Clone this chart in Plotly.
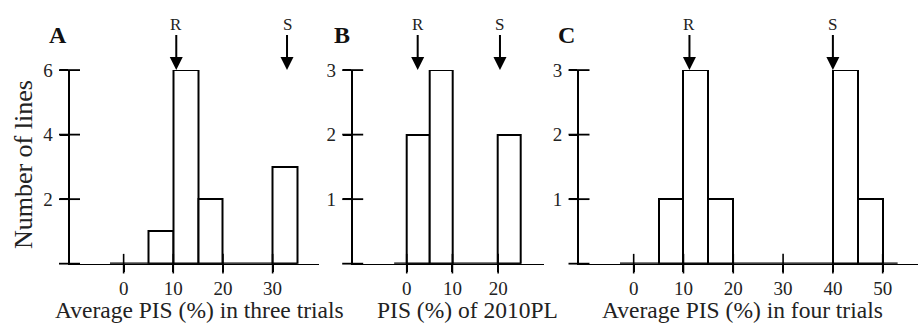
import plotly.graph_objects as go

W, H = 919, 326

# ---- data ----
bin_width = 5
A_bin_starts = [0, 5, 10, 15, 20, 25, 30]
A_counts = [0, 1, 6, 2, 0, 0, 3]
B_bin_starts = [0, 5, 10, 15, 20]
B_counts = [2, 3, 0, 0, 2]
C_bin_starts = [0, 5, 10, 15, 20, 25, 30, 35, 40, 45]
C_counts = [0, 1, 3, 1, 0, 0, 0, 0, 3, 1]

A_xticks = [0, 10, 20, 30]
B_xticks = [0, 10, 20]
C_xticks = [0, 10, 20, 30, 40, 50]
A_yticks = [2, 4, 6]
B_yticks = [1, 2, 3]
C_yticks = [1, 2, 3]

A_arrows = {"R": 10.6, "S": 32.9}
B_arrows = {"R": 2.4, "S": 20.4}
C_arrows = {"R": 11.2, "S": 40.0}

A_hist_span = [-2.75, 35]
B_hist_span = [-2.75, 25]
C_hist_span = [-2.75, 53]

A_title = "Average PIS (%) in three trials"
B_title = "PIS (%) of 2010PL"
C_title = "Average PIS (%) in four trials"
y_title = "Number of lines"

FONT = "Liberation Serif, Times New Roman, serif"


def px(x):
    return x / W


def py(y):
    return (H - y) / H


panels = [
    dict(letter="A", starts=A_bin_starts, counts=A_counts, xt=A_xticks, yt=A_yticks,
         arrows=A_arrows, span=A_hist_span, title=A_title,
         dom=[69.5, 319.3], rng=[-10.9, 39.4], ymax=6, letter_x=58, title_x=199),
    dict(letter="B", starts=B_bin_starts, counts=B_counts, xt=B_xticks, yt=B_yticks,
         arrows=B_arrows, span=B_hist_span, title=B_title,
         dom=[352.7, 544.3], rng=[-11.82, 30.1], ymax=3, letter_x=342, title_x=467),
    dict(letter="C", starts=C_bin_starts, counts=C_counts, xt=C_xticks, yt=C_yticks,
         arrows=C_arrows, span=C_hist_span, title=C_title,
         dom=[579, 918.3], rng=[-10.98, 57.15], ymax=3, letter_x=566, title_x=742),
]

fig = go.Figure()
ydom = [py(261.7), py(62)]
annotations = []
layout = {}

for i, p in enumerate(panels):
    sfx = "" if i == 0 else str(i + 1)
    xa, ya = "x" + sfx, "y" + sfx
    # thick histogram baseline
    fig.add_trace(go.Scatter(x=p["span"], y=[0, 0], xaxis=xa, yaxis=ya, mode="lines",
                             line=dict(color="black", width=2.5), cliponaxis=False,
                             hoverinfo="skip", showlegend=False))
    # bars (non-zero bins)
    bx = [s + bin_width / 2 for s, c in zip(p["starts"], p["counts"]) if c > 0]
    by = [c for c in p["counts"] if c > 0]
    fig.add_trace(go.Bar(x=bx, y=by, width=bin_width, xaxis=xa, yaxis=ya,
                         marker=dict(color="white", line=dict(color="black", width=2)),
                         cliponaxis=False, showlegend=False))
    # crossing x ticks
    fig.add_trace(go.Scatter(x=p["xt"], y=[0] * len(p["xt"]), xaxis=xa, yaxis=ya,
                             mode="markers", cliponaxis=False, hoverinfo="skip",
                             marker=dict(symbol="line-ns", size=14,
                                         line=dict(color="black", width=1.6)),
                             showlegend=False))
    # crossing y ticks
    yvals = [0] + p["yt"]
    fig.add_trace(go.Scatter(x=[p["rng"][0]] * len(yvals), y=yvals, xaxis=xa, yaxis=ya,
                             mode="markers", cliponaxis=False, hoverinfo="skip",
                             marker=dict(symbol="line-ew", size=15,
                                         line=dict(color="black", width=1.8)),
                             showlegend=False))
    layout["xaxis" + sfx] = dict(
        domain=[px(p["dom"][0]), px(p["dom"][1])], range=p["rng"], anchor=ya,
        showline=True, linecolor="black", linewidth=1.2, showgrid=False, zeroline=False,
        tickvals=p["xt"], ticks="outside", ticklen=7, tickwidth=1.5, tickcolor="black",
        ticklabelstandoff=0,
        tickfont=dict(family=FONT, size=19, color="#222"), fixedrange=True)
    layout["yaxis" + sfx] = dict(
        domain=ydom, range=[0, p["ymax"]], anchor=xa,
        showline=True, linecolor="black", linewidth=2, showgrid=False, zeroline=False,
        tickvals=p["yt"], ticks="outside", ticklen=8, tickwidth=1.8, tickcolor="black",
        ticklabelstandoff=3,
        tickfont=dict(family=FONT, size=19, color="#222"), fixedrange=True)
    # arrows with R / S labels
    for lab, xv in p["arrows"].items():
        annotations.append(dict(x=xv, y=p["ymax"], xref=xa, yref=ya, text=lab,
                                showarrow=True, ax=0, ay=-46, arrowhead=2, arrowsize=1.3,
                                arrowwidth=2, arrowcolor="black", standoff=0,
                                font=dict(family=FONT, size=17, color="#222")))
    # panel letter
    annotations.append(dict(x=px(p["letter_x"]), y=py(25.5), xref="paper", yref="paper",
                            text="<b>%s</b>" % p["letter"], showarrow=False,
                            xanchor="center", yanchor="middle",
                            font=dict(family=FONT, size=24, color="#111")))
    # x title
    annotations.append(dict(x=px(p["title_x"]), y=py(310), xref="paper", yref="paper",
                            text=p["title"], showarrow=False, xanchor="center",
                            yanchor="middle",
                            font=dict(family=FONT, size=23.5, color="#222")))

annotations.append(dict(x=px(23), y=py(160), xref="paper", yref="paper", text=y_title,
                        textangle=-90, showarrow=False, xanchor="center", yanchor="middle",
                        font=dict(family=FONT, size=26, color="#222")))

fig.update_layout(width=W, height=H, margin=dict(l=0, r=0, t=0, b=0),
                  paper_bgcolor="white", plot_bgcolor="white", bargap=0,
                  annotations=annotations, **layout)

fig.write_html("out.html")
